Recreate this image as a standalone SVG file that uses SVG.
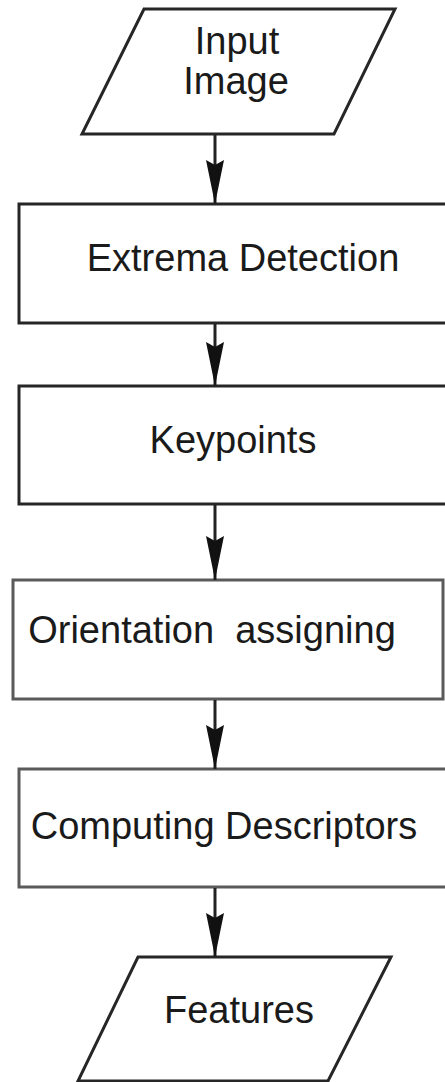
<svg xmlns="http://www.w3.org/2000/svg" width="445" height="1082" viewBox="0 0 445 1082">
  <style>
    .shape { fill: #ffffff; stroke: #262626; stroke-width: 3; }
    .soft { stroke: #5a5a5a; }
    .label { font-family: "Liberation Sans", Arial, sans-serif; font-size: 38px; fill: #1a1a1a; text-anchor: middle; }
    .flow { stroke: #222222; stroke-width: 3; fill: none; marker-end: url(#head); }
  </style>
  <defs>
    <marker id="head" markerUnits="userSpaceOnUse" markerWidth="46" markerHeight="22" viewBox="0 -11 46 22" refX="44" refY="0" orient="auto">
      <path d="M0,-9 L44,0 L0,9 L5,0 Z" fill="#111111"/>
    </marker>
  </defs>
  <rect width="445" height="1082" fill="#ffffff"/>

  <g id="input-image">
    <polygon class="shape" points="144,9 395,9 334,134 82,134"/>
    <text class="label" x="237" y="54">Input</text>
    <text class="label" x="236" y="94">Image</text>
  </g>

  <g id="extrema-detection">
    <rect class="shape" x="19" y="204" width="440" height="119"/>
    <text class="label" x="243" y="271">Extrema Detection</text>
  </g>

  <g id="keypoints">
    <rect class="shape" x="19" y="386" width="440" height="118"/>
    <text class="label" x="233" y="453">Keypoints</text>
  </g>

  <g id="orientation-assigning">
    <rect class="shape soft" x="13" y="580" width="430" height="119"/>
    <text class="label" x="212" y="643" xml:space="preserve">Orientation  assigning</text>
  </g>

  <g id="computing-descriptors">
    <rect class="shape soft" x="19" y="769" width="440" height="118"/>
    <text class="label" x="224" y="839">Computing Descriptors</text>
  </g>

  <g id="features">
    <polygon class="shape" points="138,957 391,957 328,1081 78,1081"/>
    <text class="label" x="239" y="1023">Features</text>
  </g>

  <g id="connectors">
    <line class="flow" x1="215" y1="135" x2="215" y2="204"/>
    <line class="flow" x1="215" y1="324" x2="215" y2="386"/>
    <line class="flow" x1="215" y1="505" x2="215" y2="580"/>
    <line class="flow" x1="215" y1="700" x2="215" y2="769"/>
    <line class="flow" x1="215" y1="888" x2="215" y2="957"/>
  </g>
</svg>
